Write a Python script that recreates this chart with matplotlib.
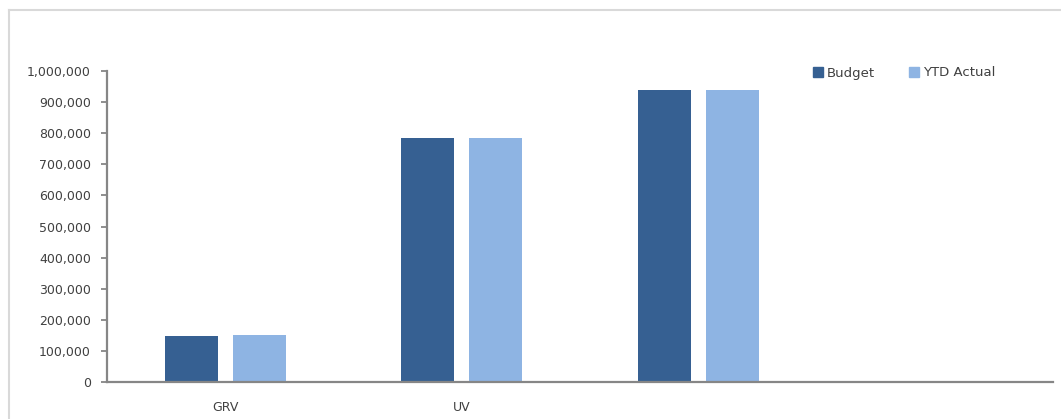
import matplotlib
matplotlib.use("Agg")
import matplotlib.pyplot as plt
from matplotlib.lines import Line2D
import numpy as np

categories = ["GRV", "UV", "", ""]
budget = [148000, 786000, 938000, None]
ytd_actual = [150000, 786000, 940000, None]
yticks = list(range(0, 1000001, 100000))

plt.rcParams['font.family'] = ['DejaVu Sans']
W, H = 1061, 419
fig = plt.figure(figsize=(W / 100, H / 100), dpi=100)
ax = fig.add_axes([107 / W, 37 / H, (1053 - 107) / W, (382 - 71) / H])

text_color = "#404040"
axis_color = "#868686"
c_budget = "#366092"
c_actual = "#8EB4E3"
fs = 9

x = np.arange(len(categories))
bw = 0.224
off = 0.143
bvals = [v if v is not None else 0 for v in budget]
avals = [v if v is not None else 0 for v in ytd_actual]
ax.bar(x - off, bvals, width=bw, color=c_budget, label="Budget")
ax.bar(x + off, avals, width=bw, color=c_actual, label="YTD Actual")

ax.set_xlim(-0.5, len(categories) - 0.5)
ax.set_ylim(0, 1000000)
ax.set_yticks(yticks)
ax.set_yticklabels([f"{v:,}" for v in yticks], fontsize=fs, color=text_color)
ax.set_xticks(x)
ax.set_xticklabels(categories, fontsize=fs, color=text_color)
ax.tick_params(axis="x", length=0, pad=14)
ax.tick_params(axis="y", length=4.5, width=1.3, color=axis_color, pad=7)

for s in ["top", "right"]:
    ax.spines[s].set_visible(False)
for s in ["left", "bottom"]:
    ax.spines[s].set_color(axis_color)
    ax.spines[s].set_linewidth(1.6)

handles = [
    Line2D([0], [0], marker="s", linestyle="none", markersize=7.5,
           markerfacecolor=c_budget, markeredgecolor=c_budget),
    Line2D([0], [0], marker="s", linestyle="none", markersize=7.5,
           markerfacecolor=c_actual, markeredgecolor=c_actual),
]
fig.legend(handles, ["Budget", "YTD Actual"], loc="center left",
           bbox_to_anchor=(806 / W, 1 - 73 / H), ncol=2, frameon=False,
           fontsize=9.5, labelcolor=text_color, handletextpad=0.2,
           columnspacing=2.6, handlelength=0.85, borderpad=0)

# outer chart frame
border = "#d9d9d9"
fig.add_artist(Line2D([9 / W, 9 / W], [0, 1 - 10 / H], transform=fig.transFigure,
                      color=border, linewidth=1.5))
fig.add_artist(Line2D([9 / W, 1], [1 - 10 / H, 1 - 10 / H], transform=fig.transFigure,
                      color=border, linewidth=1.5))

fig.savefig("out.png", dpi=100, facecolor="white")
